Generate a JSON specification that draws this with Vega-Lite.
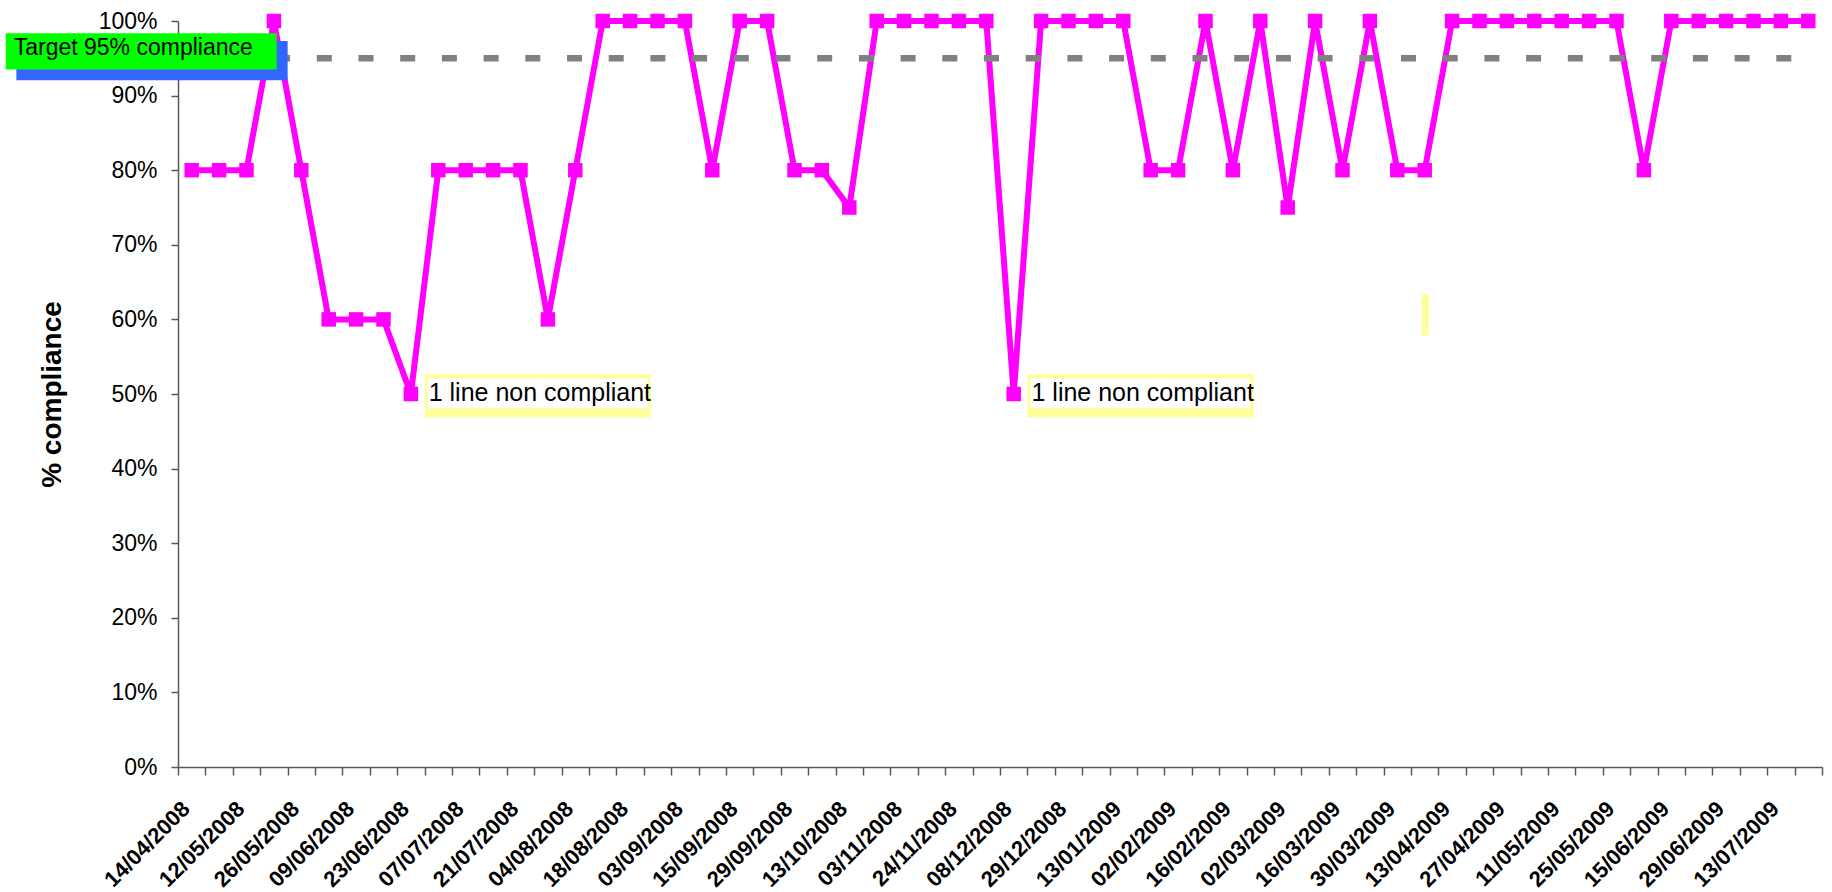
{
  "$schema": "https://vega.github.io/schema/vega-lite/v6.json",
  "width": 1644,
  "height": 746,
  "autosize": {"type": "none"},
  "padding": {"left": 178, "top": 21, "right": 10, "bottom": 125},
  "background": "white",
  "config": {"view": {"stroke": null}, "font": "Liberation Sans"},
  "datasets": {
    "compliance": [
      {"date": "14/04/2008", "compliance": 0.8, "target": 0.95},
      {"date": "28/04/2008", "compliance": 0.8, "target": 0.95},
      {"date": "12/05/2008", "compliance": 0.8, "target": 0.95},
      {"date": "19/05/2008", "compliance": 1.0, "target": 0.95},
      {"date": "26/05/2008", "compliance": 0.8, "target": 0.95},
      {"date": "02/06/2008", "compliance": 0.6, "target": 0.95},
      {"date": "09/06/2008", "compliance": 0.6, "target": 0.95},
      {"date": "16/06/2008", "compliance": 0.6, "target": 0.95},
      {"date": "23/06/2008", "compliance": 0.5, "target": 0.95},
      {"date": "30/06/2008", "compliance": 0.8, "target": 0.95},
      {"date": "07/07/2008", "compliance": 0.8, "target": 0.95},
      {"date": "14/07/2008", "compliance": 0.8, "target": 0.95},
      {"date": "21/07/2008", "compliance": 0.8, "target": 0.95},
      {"date": "28/07/2008", "compliance": 0.6, "target": 0.95},
      {"date": "04/08/2008", "compliance": 0.8, "target": 0.95},
      {"date": "11/08/2008", "compliance": 1.0, "target": 0.95},
      {"date": "18/08/2008", "compliance": 1.0, "target": 0.95},
      {"date": "26/08/2008", "compliance": 1.0, "target": 0.95},
      {"date": "03/09/2008", "compliance": 1.0, "target": 0.95},
      {"date": "08/09/2008", "compliance": 0.8, "target": 0.95},
      {"date": "15/09/2008", "compliance": 1.0, "target": 0.95},
      {"date": "22/09/2008", "compliance": 1.0, "target": 0.95},
      {"date": "29/09/2008", "compliance": 0.8, "target": 0.95},
      {"date": "06/10/2008", "compliance": 0.8, "target": 0.95},
      {"date": "13/10/2008", "compliance": 0.75, "target": 0.95},
      {"date": "27/10/2008", "compliance": 1.0, "target": 0.95},
      {"date": "03/11/2008", "compliance": 1.0, "target": 0.95},
      {"date": "17/11/2008", "compliance": 1.0, "target": 0.95},
      {"date": "24/11/2008", "compliance": 1.0, "target": 0.95},
      {"date": "01/12/2008", "compliance": 1.0, "target": 0.95},
      {"date": "08/12/2008", "compliance": 0.5, "target": 0.95},
      {"date": "15/12/2008", "compliance": 1.0, "target": 0.95},
      {"date": "29/12/2008", "compliance": 1.0, "target": 0.95},
      {"date": "05/01/2009", "compliance": 1.0, "target": 0.95},
      {"date": "13/01/2009", "compliance": 1.0, "target": 0.95},
      {"date": "26/01/2009", "compliance": 0.8, "target": 0.95},
      {"date": "02/02/2009", "compliance": 0.8, "target": 0.95},
      {"date": "09/02/2009", "compliance": 1.0, "target": 0.95},
      {"date": "16/02/2009", "compliance": 0.8, "target": 0.95},
      {"date": "23/02/2009", "compliance": 1.0, "target": 0.95},
      {"date": "02/03/2009", "compliance": 0.75, "target": 0.95},
      {"date": "09/03/2009", "compliance": 1.0, "target": 0.95},
      {"date": "16/03/2009", "compliance": 0.8, "target": 0.95},
      {"date": "23/03/2009", "compliance": 1.0, "target": 0.95},
      {"date": "30/03/2009", "compliance": 0.8, "target": 0.95},
      {"date": "06/04/2009", "compliance": 0.8, "target": 0.95},
      {"date": "13/04/2009", "compliance": 1.0, "target": 0.95},
      {"date": "20/04/2009", "compliance": 1.0, "target": 0.95},
      {"date": "27/04/2009", "compliance": 1.0, "target": 0.95},
      {"date": "04/05/2009", "compliance": 1.0, "target": 0.95},
      {"date": "11/05/2009", "compliance": 1.0, "target": 0.95},
      {"date": "18/05/2009", "compliance": 1.0, "target": 0.95},
      {"date": "25/05/2009", "compliance": 1.0, "target": 0.95},
      {"date": "08/06/2009", "compliance": 0.8, "target": 0.95},
      {"date": "15/06/2009", "compliance": 1.0, "target": 0.95},
      {"date": "22/06/2009", "compliance": 1.0, "target": 0.95},
      {"date": "29/06/2009", "compliance": 1.0, "target": 0.95},
      {"date": "06/07/2009", "compliance": 1.0, "target": 0.95},
      {"date": "13/07/2009", "compliance": 1.0, "target": 0.95},
      {"date": "20/07/2009", "compliance": 1.0, "target": 0.95}
    ],
    "notes": [
      {"date": "23/06/2008", "y": 0.5, "note": "1 line non compliant"},
      {"date": "08/12/2008", "y": 0.5, "note": "1 line non compliant"},
      {"date": "14/04/2008", "y": 0.95, "note": "Target 95%  compliance"},
      {"date": "06/04/2009", "y": 0.6, "note": ""}
    ]
  },
  "layer": [
    {
      "data": {"name": "compliance"},
      "mark": {"type": "line", "color": "#FF00FF", "strokeWidth": 6},
      "encoding": {
        "x": {
          "field": "date", "type": "ordinal", "sort": null, "bandPosition": 0.5,
          "scale": {"type": "band", "paddingInner": 0, "paddingOuter": 0},
          "axis": {
            "title": null,
            "labelAngle": -45,
            "labelAlign": "right",
            "labelBaseline": "middle",
            "labelFont": "Liberation Sans",
            "labelFontSize": 22,
            "labelFontWeight": "bold",
            "labelColor": "#000000",
            "labelPadding": 30,
            "labelOffset": -6,
            "labelOverlap": false,
            "labelLimit": 0,
            "labelExpr": "round(datum.index * 59) % 2 == 0 ? datum.label : ''",
            "tickBand": "extent",
            "tickExtra": true,
            "tickSize": 8,
            "tickWidth": 1.5,
            "tickColor": "#595959",
            "domainColor": "#595959",
            "domainWidth": 1.5,
            "grid": false
          }
        },
        "y": {
          "field": "compliance", "type": "quantitative",
          "scale": {"domain": [0, 1], "nice": false},
          "axis": {
            "title": "% compliance",
            "titleFont": "Liberation Sans",
            "titleFontSize": 28,
            "titleFontWeight": "bold",
            "titleColor": "#000000",
            "titlePadding": 32,
            "values": [0, 0.1, 0.2, 0.3, 0.4, 0.5, 0.6, 0.7, 0.8, 0.9, 1],
            "format": ".0%",
            "labelFont": "Liberation Sans",
            "labelFontSize": 23,
            "labelColor": "#000000",
            "labelPadding": 14,
            "tickSize": 7,
            "tickWidth": 1.5,
            "tickColor": "#595959",
            "domainColor": "#595959",
            "domainWidth": 1.5,
            "grid": false
          }
        }
      }
    },
    {
      "data": {"name": "compliance"},
      "mark": {"type": "point", "shape": "square", "size": 210, "filled": true, "color": "#FF00FF", "opacity": 1},
      "encoding": {
        "x": {"field": "date", "type": "ordinal", "sort": null, "bandPosition": 0.5},
        "y": {"field": "compliance", "type": "quantitative"}
      }
    },
    {
      "data": {"name": "compliance"},
      "mark": {"type": "line", "color": "#808080", "strokeWidth": 6.5, "strokeDash": [15, 26.7], "strokeCap": "butt"},
      "encoding": {
        "x": {"field": "date", "type": "ordinal", "sort": null, "bandPosition": 0.5},
        "y": {"field": "target", "type": "quantitative"}
      }
    },
    {
      "data": {"name": "notes"},
      "transform": [{"filter": "datum.note == '1 line non compliant'"}],
      "mark": {"type": "rect", "color": "#FFFF99", "width": 226, "xOffset": 126.8, "yOffset": -19.7, "y2Offset": 23.3},
      "encoding": {
        "x": {"field": "date", "type": "ordinal", "sort": null, "bandPosition": 0.5},
        "y": {"field": "y", "type": "quantitative"},
        "y2": {"field": "y"}
      }
    },
    {
      "data": {"name": "notes"},
      "transform": [{"filter": "datum.note == '1 line non compliant'"}],
      "mark": {"type": "rect", "color": "#FFFFFF", "width": 220, "xOffset": 126.8, "yOffset": -15.7, "y2Offset": 14.3},
      "encoding": {
        "x": {"field": "date", "type": "ordinal", "sort": null, "bandPosition": 0.5},
        "y": {"field": "y", "type": "quantitative"},
        "y2": {"field": "y"}
      }
    },
    {
      "data": {"name": "notes"},
      "transform": [{"filter": "datum.note == '1 line non compliant'"}],
      "mark": {"type": "text", "align": "left", "baseline": "alphabetic", "dx": 17.8, "dy": 7, "fontSize": 25, "font": "Liberation Sans", "color": "#000000"},
      "encoding": {
        "x": {"field": "date", "type": "ordinal", "sort": null, "bandPosition": 0.5},
        "y": {"field": "y", "type": "quantitative"},
        "text": {"field": "note"}
      }
    },
    {
      "data": {"name": "notes"},
      "transform": [{"filter": "datum.note == ''"}],
      "mark": {"type": "rect", "color": "#FFFF99", "width": 7, "xOffset": 0.5, "yOffset": -25, "y2Offset": 16},
      "encoding": {
        "x": {"field": "date", "type": "ordinal", "sort": null, "bandPosition": 0.5},
        "y": {"field": "y", "type": "quantitative"},
        "y2": {"field": "y"}
      }
    },
    {
      "data": {"name": "notes"},
      "transform": [{"filter": "indexof(datum.note, 'Target') == 0"}],
      "mark": {"type": "rect", "color": "#3366FF", "width": 271.3, "xOffset": -39.7, "yOffset": -17.3, "y2Offset": 22},
      "encoding": {
        "x": {"field": "date", "type": "ordinal", "sort": null, "bandPosition": 0.5},
        "y": {"field": "y", "type": "quantitative"},
        "y2": {"field": "y"}
      }
    },
    {
      "data": {"name": "notes"},
      "transform": [{"filter": "indexof(datum.note, 'Target') == 0"}],
      "mark": {"type": "rect", "color": "#00FF00", "width": 271, "xOffset": -50.5, "yOffset": -25, "y2Offset": 11.3},
      "encoding": {
        "x": {"field": "date", "type": "ordinal", "sort": null, "bandPosition": 0.5},
        "y": {"field": "y", "type": "quantitative"},
        "y2": {"field": "y"}
      }
    },
    {
      "data": {"name": "notes"},
      "transform": [{"filter": "indexof(datum.note, 'Target') == 0"}],
      "mark": {"type": "text", "align": "left", "baseline": "alphabetic", "dx": -178, "dy": -3, "fontSize": 23, "font": "Liberation Sans", "color": "#000000"},
      "encoding": {
        "x": {"field": "date", "type": "ordinal", "sort": null, "bandPosition": 0.5},
        "y": {"field": "y", "type": "quantitative"},
        "text": {"field": "note"}
      }
    }
  ]
}
